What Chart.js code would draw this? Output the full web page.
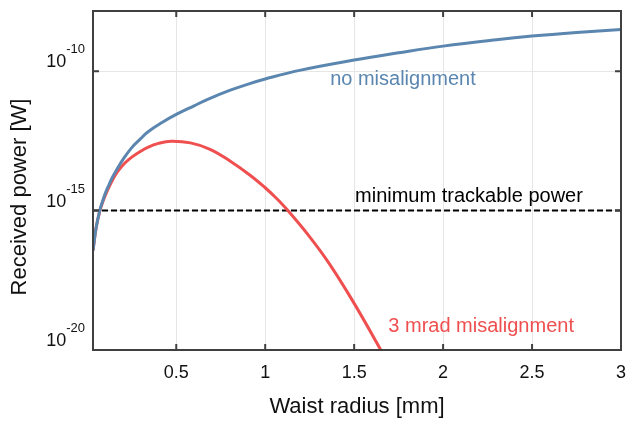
<!DOCTYPE html>
<html>
<head>
<meta charset="utf-8">
<script src="https://cdn.jsdelivr.net/npm/chart.js@4/dist/chart.umd.min.js"></script>
<style>
  body { margin: 0; background: #fff; }
  canvas { display: block; }
</style>
</head>
<body>
<canvas id="chart" width="627" height="421"></canvas>
<script>
// waist radius [mm] and log10 of received power [W]
var waistNoMis = [0.032, 0.05, 0.07, 0.085, 0.1, 0.12, 0.14, 0.17, 0.2, 0.25, 0.3, 0.34, 0.42, 0.5, 0.6, 0.68, 0.8, 0.9, 1.0, 1.2, 1.5, 1.75, 2.0, 2.3, 2.5, 2.75, 3.0];
var logPowerNoMis = [-16.43, -15.6, -15.0, -14.68, -14.4, -14.1, -13.82, -13.48, -13.17, -12.74, -12.42, -12.18, -11.84, -11.55, -11.24, -11.0, -10.69, -10.47, -10.28, -9.96, -9.6, -9.34, -9.1, -8.87, -8.74, -8.61, -8.5];

var waistMis = [0.032, 0.05, 0.07, 0.085, 0.1, 0.12, 0.145, 0.17, 0.21, 0.25, 0.3, 0.34, 0.4, 0.47, 0.58, 0.69, 0.8, 0.915, 1.0, 1.06, 1.125, 1.25, 1.36, 1.49, 1.65, 1.7];
var logPowerMis = [-16.43, -15.6, -15.02, -14.72, -14.47, -14.18, -13.87, -13.6, -13.3, -13.08, -12.87, -12.73, -12.59, -12.51, -12.57, -12.8, -13.21, -13.73, -14.18, -14.54, -14.98, -15.94, -16.9, -18.22, -20.0, -20.6];

var minTrackable = 1e-15;
var xTicks = [0.5, 1, 1.5, 2, 2.5, 3];
var xTickLabels = ['0.5', '1', '1.5', '2', '2.5', '3'];
var yTickExp = [-20, -15, -10];

var xMin = 0.032, xMax = 3;
var yMin = 1e-20, yMax = Math.pow(10, -7.84);

var blue = '#5a86af';
var red = '#ef4f4f';
var font = "'Liberation Sans', Arial, sans-serif";

function toPoints(xs, logs) {
    var pts = [];
    for (var i = 0; i < xs.length; i++) {
        pts.push({x: xs[i], y: Math.pow(10, logs[i])});
    }
    return pts;
}

// text labels placed in data coordinates (left edge, baseline)
var notes = [
    {text: 'no misalignment', x: 1.365, y: -10.5, color: blue},
    {text: 'minimum trackable power', x: 1.505, y: -14.68, color: '#000'},
    {text: '3 mrad misalignment', x: 1.692, y: -19.36, color: red}
];

var framePlugin = {
    id: 'frame',
    afterDraw: function (chart) {
        var ctx = chart.ctx;
        var a = chart.chartArea;
        var xs = chart.scales.x, ys = chart.scales.y;
        ctx.save();

        // annotations
        ctx.font = '20px ' + font;
        ctx.textAlign = 'left';
        ctx.textBaseline = 'alphabetic';
        notes.forEach(function (n) {
            ctx.fillStyle = n.color;
            ctx.fillText(n.text, xs.getPixelForValue(n.x), ys.getPixelForValue(Math.pow(10, n.y)));
        });

        // box
        ctx.strokeStyle = '#404040';
        ctx.lineWidth = 2;
        ctx.strokeRect(a.left, a.top, a.right - a.left, a.bottom - a.top);

        // inner tick marks
        ctx.beginPath();
        xTicks.forEach(function (v) {
            var px = xs.getPixelForValue(v);
            ctx.moveTo(px, a.bottom); ctx.lineTo(px, a.bottom - 6);
            ctx.moveTo(px, a.top); ctx.lineTo(px, a.top + 6);
        });
        yTickExp.forEach(function (e) {
            var py = ys.getPixelForValue(Math.pow(10, e));
            ctx.moveTo(a.left, py); ctx.lineTo(a.left + 6, py);
            ctx.moveTo(a.right, py); ctx.lineTo(a.right - 6, py);
        });
        ctx.stroke();

        // x tick labels
        ctx.fillStyle = '#111';
        ctx.font = '18px ' + font;
        ctx.textAlign = 'center';
        xTicks.forEach(function (v, i) {
            ctx.fillText(xTickLabels[i], xs.getPixelForValue(v), 377.5);
        });

        // y tick labels as 10 with superscript exponent
        yTickExp.forEach(function (e) {
            var py = ys.getPixelForValue(Math.pow(10, e));
            var sup = String(e);
            ctx.font = '13px ' + font;
            var supW = ctx.measureText(sup).width;
            var supX = a.left - 8 - supW;
            ctx.textAlign = 'left';
            ctx.fillText(sup, supX, py - 18);
            ctx.font = '18px ' + font;
            ctx.textAlign = 'right';
            ctx.fillText('10', supX, py - 4);
        });

        // axis titles
        ctx.font = '22px ' + font;
        ctx.textAlign = 'center';
        ctx.fillText('Waist radius [mm]', (a.left + a.right) / 2, 413);
        ctx.translate(26, 197);
        ctx.rotate(-Math.PI / 2);
        ctx.fillText('Received power [W]', 0, 0);
        ctx.restore();
    }
};

var ctx = document.getElementById('chart').getContext('2d');
var chart = new Chart(ctx, {
    type: 'line',
    data: {
        datasets: [{
            label: 'no misalignment',
            data: toPoints(waistNoMis, logPowerNoMis),
            borderColor: blue,
            borderWidth: 3,
            tension: 0.4
        }, {
            label: '3 mrad misalignment',
            data: toPoints(waistMis, logPowerMis),
            borderColor: red,
            borderWidth: 3,
            tension: 0.4
        }, {
            label: 'minimum trackable power',
            data: [{x: xMin, y: minTrackable}, {x: xMax, y: minTrackable}],
            borderColor: '#000',
            borderWidth: 2,
            borderDash: [6, 3]
        }]
    },
    options: {
        responsive: false,
        animation: false,
        devicePixelRatio: 1,
        layout: {padding: {left: 0, top: 11, right: 6, bottom: 0}},
        elements: {point: {radius: 0}},
        plugins: {legend: {display: false}, tooltip: {enabled: false}},
        scales: {
            x: {
                type: 'linear',
                min: xMin,
                max: xMax,
                afterBuildTicks: function (s) {
                    s.ticks = xTicks.map(function (v) { return {value: v}; });
                },
                afterFit: function (s) { s.height = 71; },
                ticks: {display: false},
                grid: {color: '#e6e6e6', lineWidth: 1, drawTicks: false},
                border: {display: false}
            },
            y: {
                type: 'logarithmic',
                min: yMin,
                max: yMax,
                afterBuildTicks: function (s) {
                    s.ticks = yTickExp.map(function (e) { return {value: Math.pow(10, e)}; });
                },
                afterFit: function (s) { s.width = 93; },
                ticks: {display: false},
                grid: {color: '#e6e6e6', lineWidth: 1, drawTicks: false},
                border: {display: false}
            }
        }
    },
    plugins: [framePlugin]
});
</script>
</body>
</html>
